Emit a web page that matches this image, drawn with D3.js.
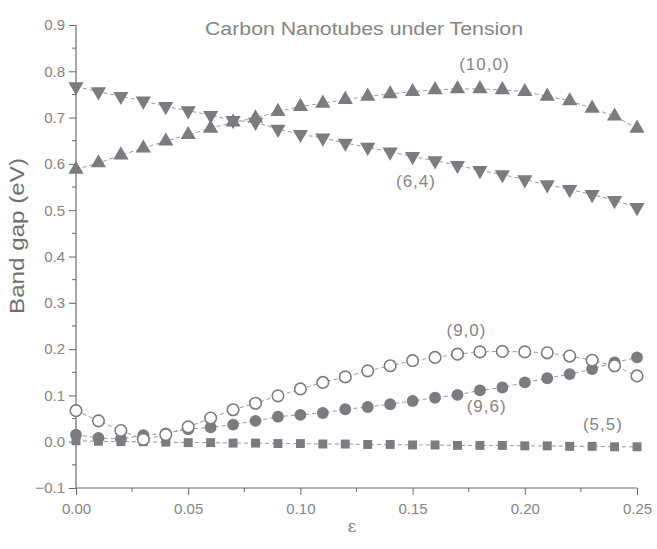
<!DOCTYPE html>
<html><head><meta charset="utf-8">
<script src="https://cdn.jsdelivr.net/npm/d3@7"></script>
<style>body{margin:0;background:#fff}svg{display:block}</style>
</head><body>
<svg id="c" width="657" height="549"></svg>
<script>
const strain = [0.00,0.01,0.02,0.03,0.04,0.05,0.06,0.07,0.08,0.09,0.10,0.11,0.12,0.13,0.14,0.15,0.16,0.17,0.18,0.19,0.20,0.21,0.22,0.23,0.24,0.25];
const gap10_0 = [0.588,0.602,0.619,0.634,0.649,0.663,0.677,0.690,0.699,0.713,0.724,0.731,0.739,0.746,0.751,0.756,0.760,0.762,0.762,0.760,0.756,0.746,0.736,0.720,0.703,0.677];
const gap6_4 = [0.767,0.756,0.746,0.736,0.724,0.715,0.705,0.694,0.690,0.675,0.664,0.656,0.645,0.636,0.626,0.616,0.607,0.597,0.586,0.577,0.566,0.555,0.545,0.534,0.521,0.506];
const gap9_0 = [0.067,0.045,0.024,0.005,0.015,0.032,0.051,0.069,0.083,0.099,0.114,0.128,0.140,0.153,0.164,0.175,0.182,0.189,0.194,0.195,0.194,0.192,0.185,0.176,0.164,0.142];
const gap9_6 = [0.015,0.008,0.006,0.014,0.018,0.027,0.031,0.037,0.045,0.054,0.058,0.062,0.070,0.075,0.081,0.088,0.095,0.101,0.111,0.117,0.128,0.137,0.146,0.157,0.171,0.182];
const gap5_5 = [0.002,0.001,0.000,0.000,-0.001,-0.002,-0.002,-0.003,-0.003,-0.004,-0.004,-0.005,-0.005,-0.006,-0.006,-0.007,-0.007,-0.008,-0.008,-0.008,-0.009,-0.009,-0.010,-0.010,-0.011,-0.011];
const xTicks = [0.00,0.05,0.10,0.15,0.20,0.25];
const yTicks = [-0.1,0.0,0.1,0.2,0.3,0.4,0.5,0.6,0.7,0.8,0.9];
const titleText = "Carbon Nanotubes under Tension";
const labelNames = ["(10,0)","(6,4)","(9,0)","(9,6)","(5,5)"];
const labelX = [0.182,0.1515,0.174,0.183,0.2348];
const labelY = [0.803,0.550,0.228,0.064,0.025];

const svg = d3.select("#c");
const x = d3.scaleLinear().domain([0,0.25]).range([76,637]);
const y = d3.scaleLinear().domain([-0.1,0.9]).range([488,25]);
const grey = "#7b7b80", txt = "#858585", axisC = "#6a6a6a";
const font = "Liberation Sans, Arial, sans-serif";

// axes
const yAxis = d3.axisLeft(y).tickValues(yTicks).tickFormat(d3.format(".1f")).tickSize(7).tickPadding(4);
const gy = svg.append("g").attr("transform","translate(76,0)").call(yAxis);
gy.selectAll(".domain").attr("d", `M0,${y(0.9)}V${y(-0.1)}`);
const yMinor = d3.range(-0.05,0.9,0.1);
gy.selectAll(".minor").data(yMinor).enter().append("line").attr("x1",0).attr("x2",-4).attr("y1",d=>y(d)).attr("y2",d=>y(d)).attr("stroke",axisC);
const xAxis = d3.axisBottom(x).tickValues(xTicks).tickFormat(d3.format(".2f")).tickSize(7).tickPadding(8);
const gx = svg.append("g").attr("transform","translate(0,488)").call(xAxis);
gx.selectAll(".domain").attr("d", `M${x(0)},0H${x(0.25)}`);
const xMinor = [0.025,0.075,0.125,0.175,0.225];
gx.selectAll(".minor").data(xMinor).enter().append("line").attr("y1",0).attr("y2",4).attr("x1",d=>x(d)).attr("x2",d=>x(d)).attr("stroke",axisC);
[gx,gy].forEach(g=>{
  g.selectAll(".domain").attr("stroke",axisC).attr("stroke-width",1.2);
  g.selectAll(".tick line").attr("stroke",axisC);
  g.selectAll("text").attr("fill",txt).style("font-family",font).style("font-size","15px");
});

// series
const series = [
  {d:gap5_5, sym:d3.symbolSquare, size:80, fill:grey, stroke:"none"},
  {d:gap9_6, sym:d3.symbolCircle, size:110, fill:grey, stroke:"none"},
  {d:gap9_0, sym:d3.symbolCircle, size:105, fill:"#fff", stroke:grey},
  {d:gap6_4, sym:d3.symbolTriangle, size:100, fill:grey, stroke:"none", rot:180},
  {d:gap10_0, sym:d3.symbolTriangle, size:100, fill:grey, stroke:"none", rot:0}
];
const line = d3.line().x((d,i)=>x(strain[i])).y(d=>y(d));
series.forEach(s=>{
  svg.append("path").attr("d",line(s.d)).attr("fill","none").attr("stroke","#8f8f8f").attr("stroke-width",0.9).attr("stroke-dasharray","4,3");
});
series.forEach(s=>{
  svg.append("g").selectAll("path").data(s.d).enter().append("path")
    .attr("d",d3.symbol().type(s.sym).size(s.size))
    .attr("transform",(d,i)=>`translate(${x(strain[i])},${y(d)})${s.rot?` rotate(${s.rot})`:""}`)
    .attr("fill",s.fill).attr("stroke",s.stroke).attr("stroke-width",1.6);
});

// labels
svg.selectAll(".lab").data(labelNames).enter().append("text")
  .attr("x",(d,i)=>x(labelX[i])).attr("y",(d,i)=>y(labelY[i])).attr("text-anchor","middle")
  .attr("fill",txt).style("font-family",font).style("font-size","17px").style("letter-spacing","1px").text(d=>d);
svg.append("text").attr("x",364).attr("y",35).attr("text-anchor","middle").attr("fill",txt)
  .attr("textLength",318).attr("lengthAdjust","spacingAndGlyphs")
  .style("font-family",font).style("font-size","18px").text(titleText);
svg.append("text").attr("transform","translate(24,236) rotate(-90)").attr("text-anchor","middle").attr("fill","#707070")
  .attr("textLength",156).attr("lengthAdjust","spacingAndGlyphs")
  .style("font-family",font).style("font-size","20px").text("Band gap (eV)");
svg.append("text").attr("x",352).attr("y",532).attr("text-anchor","middle").attr("fill",txt)
  .style("font-family","DejaVu Serif, serif").style("font-size","17px").text("ε");
</script>
</body></html>
